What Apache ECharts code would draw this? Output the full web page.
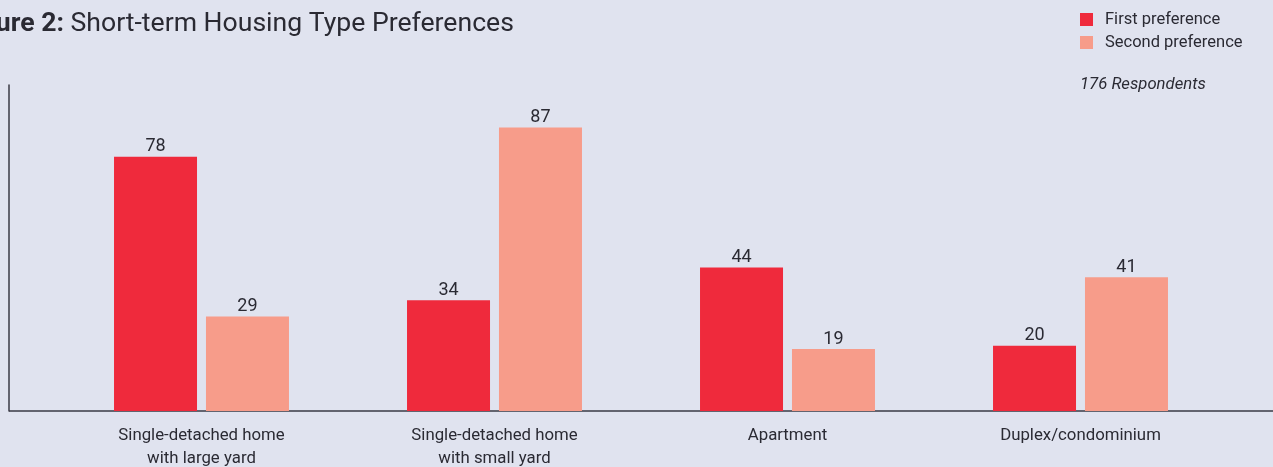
<!DOCTYPE html>
<html>
<head>
<meta charset="utf-8">
<script src="https://cdn.jsdelivr.net/npm/echarts@6/dist/echarts.min.js"></script>
<style>
html,body{margin:0;padding:0;background:#e0e3ef;overflow:hidden;}
#chart{width:1273px;height:467px;}
</style>
</head>
<body>
<div id="chart"></div>
<script>
const categories = ['Single-detached home\nwith large yard', 'Single-detached home\nwith small yard', 'Apartment', 'Duplex/condominium'];
const firstPreference = [78, 34, 44, 20];
const secondPreference = [29, 87, 19, 41];
const seriesNames = ['First preference', 'Second preference'];

const FONT = '"Roboto", sans-serif';
const TEXT = '#2a2a33';
const chart = echarts.init(document.getElementById('chart'));
chart.setOption({
  backgroundColor: '#e0e3ef',
  animation: false,
  textStyle: { fontFamily: FONT },
  grid: { left: 55, width: 1172, top: 85, bottom: 56, containLabel: false, outerBoundsMode: 'none' },
  legend: {
    orient: 'vertical', left: 1080, top: 11, padding: 0, itemWidth: 13, itemHeight: 13, itemGap: 6,
    icon: 'rect',
    textStyle: { fontFamily: FONT, fontSize: 16.5, color: TEXT, padding: [0,0,0,7] },
    data: seriesNames
  },
  xAxis: {
    type: 'category', data: categories,
    axisLine: { show: false }, axisTick: { show: false },
    axisLabel: { fontFamily: FONT, fontSize: 16.8, color: TEXT, lineHeight: 23, margin: 13, interval: 0 }
  },
  yAxis: {
    type: 'value', min: 0, max: 100, offset: 46,
    axisLine: { show: true, lineStyle: { color: '#3a3a45', width: 1.5 } },
    axisTick: { show: false }, axisLabel: { show: false }, splitLine: { show: false }
  },
  series: [
    { name: seriesNames[0], type: 'bar', data: firstPreference, barWidth: 83, barGap: '10.8%',
      itemStyle: { color: '#ef2a3c' },
      label: { show: true, position: 'top', distance: 1, fontFamily: FONT, fontSize: 18, color: TEXT } },
    { name: seriesNames[1], type: 'bar', data: secondPreference, barWidth: 83,
      itemStyle: { color: '#f79c8a' },
      label: { show: true, position: 'top', distance: 1, fontFamily: FONT, fontSize: 18, color: TEXT } }
  ],
  graphic: [
    { type: 'line', z: 0, shape: { x1: 9, y1: 411, x2: 1273, y2: 411 }, style: { stroke: '#3a3a45', lineWidth: 1.5 } },
    { type: 'text', left: -41, top: 11, style: {
        text: '{b|Figure 2:} Short-term Housing Type Preferences',
        rich: { b: { fontWeight: 'bold', fontSize: 26.6, fontFamily: FONT, fill: TEXT } },
        fontSize: 26.6, fontFamily: FONT, fill: TEXT } },
    { type: 'text', left: 1080, top: 76, style: {
        text: '176 Respondents', fontStyle: 'italic', fontSize: 16.7, fontFamily: FONT, fill: TEXT } }
  ]
});
</script>
</body>
</html>
